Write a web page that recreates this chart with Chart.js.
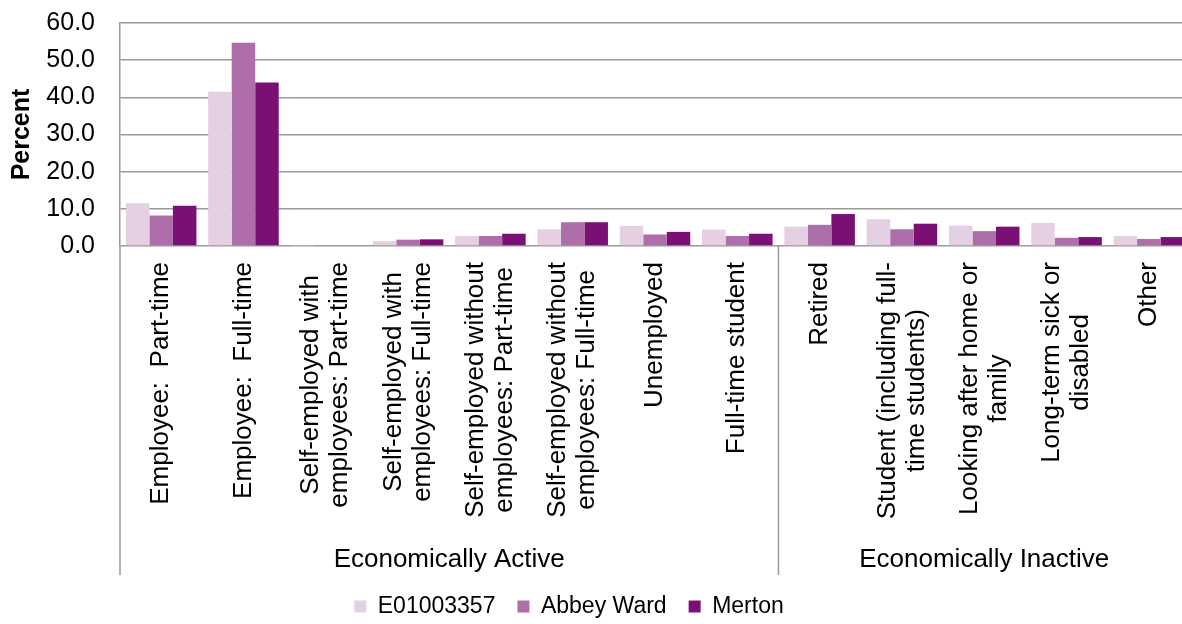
<!DOCTYPE html>
<html>
<head>
<meta charset="utf-8">
<title>Economic activity</title>
<script src="https://cdn.jsdelivr.net/npm/chart.js@4/dist/chart.umd.min.js"></script>
<style>
  html, body { margin: 0; padding: 0; background: #ffffff; overflow: hidden; }
  #wrap { position: relative; width: 1182px; height: 624px; overflow: hidden; }
  #chart { position: absolute; left: 0; top: 0; }
</style>
</head>
<body>
<div id="wrap"><canvas id="chart" width="1200" height="624"></canvas></div>
<script>
// Category labels (one entry per line of the wrapped label)
const categories = [
  ['Employee:  Part-time'],
  ['Employee:  Full-time'],
  ['Self-employed with', 'employees: Part-time'],
  ['Self-employed with', 'employees: Full-time'],
  ['Self-employed without', 'employees: Part-time'],
  ['Self-employed without', 'employees: Full-time'],
  ['Unemployed'],
  ['Full-time student'],
  ['Retired'],
  ['Student (including full-', 'time students)'],
  ['Looking after home or', 'family'],
  ['Long-term sick or', 'disabled'],
  ['Other']
];

// Second-level grouping of the categories
const groupNames = ['Economically Active', 'Economically Inactive'];
const groupSizes = [8, 5];

// Series
const seriesNames = ['E01003357', 'Abbey Ward', 'Merton'];
const e01003357 = [11.5, 41.5, 0.1, 1.3, 2.7, 4.5, 5.4, 4.4, 5.2, 7.2, 5.5, 6.2, 2.7];
const abbeyWard = [8.2, 54.7, 0.2, 1.7, 2.7, 6.4, 3.1, 2.7, 5.7, 4.5, 4.0, 2.2, 1.9];
const merton    = [10.8, 44.0, 0.2, 1.8, 3.3, 6.4, 3.8, 3.3, 8.6, 6.0, 5.2, 2.4, 2.4];

// Value axis
const yMin = 0;
const yMax = 60;
const yStep = 10;

const FONT = "'Liberation Sans', Arial, Helvetica, sans-serif";
const AXIS_GREY = '#9a9a9a';
const seriesColors = ['#E5CFE3', '#AE6EAA', '#7B1074'];

// Draws the two-level category axis (wrapped rotated labels, group names and dividers)
const categoryAxisPlugin = {
  id: 'categoryAxis',
  afterLayout(chart) {
    // nudge the legend row into place below the category axis
    const lg = chart.legend;
    if (lg) {
      const dx = -26, dy = 4;
      lg.left += dx; lg.right += dx;
      lg.top += dy; lg.bottom += dy;
    }
  },
  afterDraw(chart) {
    const ctx = chart.ctx;
    const x = chart.scales.x;
    const area = chart.chartArea;
    const axisDepth = 329;
    const lineGap = 29;

    ctx.save();
    ctx.fillStyle = '#000000';
    ctx.font = '26px ' + FONT;
    ctx.textBaseline = 'middle';
    ctx.textAlign = 'center';
    categories.forEach((lines, i) => {
      const px = x.getPixelForValue(i);
      const maxW = Math.max(...lines.map(l => ctx.measureText(l).width));
      const cy = area.bottom + 16 + maxW / 2;
      lines.forEach((line, j) => {
        const lx = px + (j - (lines.length - 1) / 2) * lineGap;
        ctx.save();
        ctx.translate(lx, cy);
        ctx.rotate(-Math.PI / 2);
        ctx.fillText(line, 0, 0);
        ctx.restore();
      });
    });

    // group boundaries
    const bounds = [area.left];
    let idx = 0;
    groupSizes.forEach((n) => {
      idx += n;
      if (idx < categories.length) {
        bounds.push((x.getPixelForValue(idx - 1) + x.getPixelForValue(idx)) / 2);
      } else {
        bounds.push(area.right);
      }
    });

    ctx.strokeStyle = AXIS_GREY;
    ctx.lineWidth = 1.5;
    ctx.beginPath();
    ctx.moveTo(area.left, area.bottom);
    ctx.lineTo(area.left, area.bottom + axisDepth);
    for (let b = 1; b < bounds.length - 1; b++) {
      ctx.moveTo(bounds[b], area.bottom);
      ctx.lineTo(bounds[b], area.bottom + axisDepth);
    }
    ctx.stroke();

    ctx.font = '26px ' + FONT;
    groupNames.forEach((name, g) => {
      const cx = (bounds[g] + bounds[g + 1]) / 2;
      ctx.fillText(name, cx, area.bottom + 314);
    });
    ctx.restore();
  }
};

new Chart(document.getElementById('chart'), {
  type: 'bar',
  data: {
    labels: categories.map(l => l.join(' ')),
    datasets: [
      { label: seriesNames[0], data: e01003357, backgroundColor: seriesColors[0] },
      { label: seriesNames[1], data: abbeyWard, backgroundColor: seriesColors[1] },
      { label: seriesNames[2], data: merton, backgroundColor: seriesColors[2] }
    ]
  },
  options: {
    responsive: false,
    animation: false,
    datasets: { bar: { categoryPercentage: 0.857, barPercentage: 1.0, borderWidth: 0 } },
    layout: { padding: { left: 0, right: 10, top: 23, bottom: 0 } },
    plugins: {
      legend: {
        position: 'bottom',
        labels: {
          color: '#000000',
          font: { family: FONT, size: 23 },
          boxWidth: 12,
          boxHeight: 12,
          padding: 22
        }
      },
      tooltip: { enabled: false }
    },
    scales: {
      x: {
        grid: { display: false },
        border: { display: false },
        ticks: { display: false },
        afterFit(scale) { scale.height = 323; }
      },
      y: {
        min: yMin,
        max: yMax,
        ticks: {
          stepSize: yStep,
          color: '#000000',
          font: { family: FONT, size: 25 },
          padding: 25,
          callback: v => Number(v).toFixed(1)
        },
        grid: { color: AXIS_GREY, lineWidth: 1.5, drawTicks: false },
        border: { color: AXIS_GREY, width: 1.5 },
        title: {
          display: true,
          text: 'Percent',
          color: '#000000',
          font: { family: FONT, size: 25, weight: 'bold' },
          padding: { top: 7, bottom: 0 }
        },
        afterFit(scale) {
          scale.width = 120;
          scale.paddingTop = 0;
          scale.paddingBottom = 0;
        }
      }
    }
  },
  plugins: [categoryAxisPlugin]
});
</script>
</body>
</html>
